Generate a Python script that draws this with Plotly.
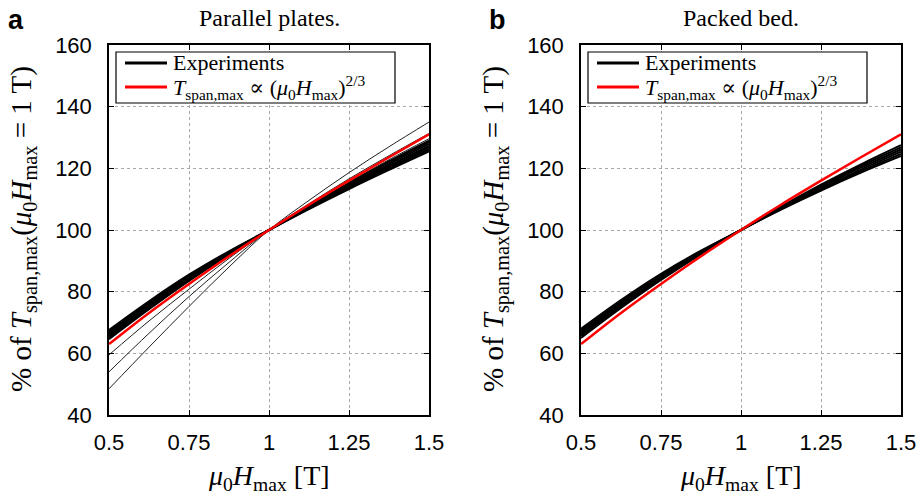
import plotly.graph_objects as go

# ---------------- data ----------------
field_T = [0.5, 0.625, 0.75, 0.875, 1.0, 1.125, 1.25, 1.375, 1.5]

# model: T_span,max proportional to (mu0 Hmax)^(2/3), % of value at 1 T
model_pct = [63.0, 73.1, 82.5, 91.5, 100.0, 108.2, 116.0, 123.6, 131.0]

# Parallel plates: main bundle of experiments
plates_bundle = [
    [67.6, 76.9, 85.5, 93.1, 100.0, 106.8, 113.3, 119.5, 125.5],
    [67.1, 76.5, 85.2, 92.9, 100.0, 107.0, 113.6, 120.0, 126.1],
    [66.6, 76.1, 84.9, 92.7, 100.0, 107.1, 113.9, 120.5, 126.7],
    [66.1, 75.6, 84.5, 92.5, 100.0, 107.3, 114.2, 120.9, 127.3],
    [65.6, 75.2, 84.2, 92.3, 100.0, 107.5, 114.6, 121.4, 127.9],
    [65.1, 74.8, 83.9, 92.1, 100.0, 107.7, 114.9, 121.9, 128.5],
    [64.6, 74.3, 83.5, 91.9, 100.0, 107.8, 115.2, 122.3, 129.0],
]
# Parallel plates: outlying experiments
plates_outliers = [
    [59.5, 70.5, 80.8, 90.8, 100.0, 108.0, 115.5, 122.8, 129.6],
    [54.0, 66.5, 78.4, 89.5, 100.0, 108.5, 116.6, 124.1, 131.3],
    [48.5, 62.0, 75.2, 88.0, 100.0, 109.6, 118.6, 127.0, 135.0],
]
# Packed bed: bundle of experiments
bed_bundle = [
    [68.0, 77.3, 85.8, 93.3, 100.0, 106.6, 112.8, 118.6, 124.0],
    [67.4, 76.8, 85.4, 93.1, 100.0, 106.8, 113.1, 119.1, 124.7],
    [66.8, 76.3, 85.0, 92.9, 100.0, 107.0, 113.5, 119.6, 125.4],
    [66.2, 75.7, 84.6, 92.6, 100.0, 107.2, 113.9, 120.2, 126.1],
    [65.6, 75.2, 84.2, 92.4, 100.0, 107.4, 114.3, 120.8, 126.8],
    [65.0, 74.7, 83.8, 92.2, 100.0, 107.6, 114.7, 121.3, 127.5],
]

x_ticks = [0.5, 0.75, 1.0, 1.25, 1.5]
x_ticklabels = ["0.5", "0.75", "1", "1.25", "1.5"]
y_ticks = [40, 60, 80, 100, 120, 140, 160]

panel_titles = ["Parallel plates.", "Packed bed."]
panel_letters = ["a", "b"]
legend_exp = "Experiments"
legend_model = ("<i>T</i><sub>span,max</sub> ∝ (<i>μ</i><sub>0</sub>"
                "<i>H</i><sub>max</sub>)<sup>2/3</sup>")
y_title = ("% of <i>T</i><sub>span,max</sub>(<i>μ</i><sub>0</sub>"
           "<i>H</i><sub>max</sub> = 1 T)")
x_title = "<i>μ</i><sub>0</sub><i>H</i><sub>max</sub> [T]"

# ---------------- figure ----------------
W, H = 922, 496
serif = "Liberation Serif, DejaVu Serif, serif"
sans = "Liberation Sans, Arial, sans-serif"

fig = go.Figure()

def add_panel(bundle, outliers, xa, ya):
    for ys in outliers:
        fig.add_trace(go.Scatter(x=field_T, y=ys, mode="lines", line=dict(color="#222", width=1, shape="spline"),
                                 showlegend=False, xaxis=xa, yaxis=ya, hoverinfo="skip"))
    for ys in bundle:
        fig.add_trace(go.Scatter(x=field_T, y=ys, mode="lines", line=dict(color="black", width=2, shape="spline"),
                                 showlegend=False, xaxis=xa, yaxis=ya, hoverinfo="skip"))
    fig.add_trace(go.Scatter(x=field_T, y=model_pct, mode="lines", line=dict(color="red", width=2.5, shape="spline"),
                             showlegend=False, xaxis=xa, yaxis=ya, hoverinfo="skip"))

add_panel(plates_bundle, plates_outliers, "x", "y")
add_panel(bed_bundle, [], "x2", "y2")

x_dom = [(109 / W, 429 / W), (581 / W, 901 / W)]
y_dom = (1 - 415 / H, 1 - 45 / H)

axis_common = dict(
    showline=True, linecolor="black", linewidth=1.5, mirror="ticks",
    ticks="inside", ticklen=5, tickcolor="black", automargin=False,
    showgrid=True, gridcolor="#a8a8a8", griddash="dot", gridwidth=1,
    zeroline=False, tickfont=dict(family=sans, size=22, color="black"),
)

fig.update_layout(
    width=W, height=H, margin=dict(l=0, r=0, t=0, b=0, autoexpand=False),
    paper_bgcolor="white", plot_bgcolor="white", showlegend=False,
    xaxis=dict(domain=x_dom[0], range=[0.5, 1.5], tickvals=x_ticks, ticktext=x_ticklabels,
               anchor="y", ticklabelstandoff=7, **axis_common),
    yaxis=dict(domain=y_dom, range=[40, 160], tickvals=y_ticks, anchor="x",
               ticklabelstandoff=11, **axis_common),
    xaxis2=dict(domain=x_dom[1], range=[0.5, 1.5], tickvals=x_ticks, ticktext=x_ticklabels,
                anchor="y2", ticklabelstandoff=7, **axis_common),
    yaxis2=dict(domain=y_dom, range=[40, 160], tickvals=y_ticks, anchor="x2",
                ticklabelstandoff=11, **axis_common),
)

def px(x):
    return x / W

def py(y):
    return 1 - y / H

annotations = []
shapes = []
centers = [269, 741]
legend_left = [116, 588]
for i in range(2):
    cx = px(centers[i])
    annotations.append(dict(text=panel_titles[i], x=cx, y=py(18), xref="paper", yref="paper",
                            xanchor="center", yanchor="middle",
                            showarrow=False, font=dict(family=serif, size=24, color="black")))
    annotations.append(dict(text=x_title, x=cx, y=py(477), xref="paper", yref="paper",
                            xanchor="center", yanchor="middle",
                            showarrow=False, font=dict(family=serif, size=28, color="black")))
    lx = [23, 495][i]
    annotations.append(dict(text=y_title, x=px(lx), y=py(229), xref="paper", yref="paper",
                            xanchor="center", yanchor="middle",
                            textangle=-90, showarrow=False,
                            font=dict(family=serif, size=29, color="black")))
    ax = [16, 498][i]
    annotations.append(dict(text="<b>" + panel_letters[i] + "</b>", x=px(ax), y=py(20),
                            xref="paper", yref="paper", xanchor="center", yanchor="middle",
                            showarrow=False, font=dict(family=sans, size=27, color="black")))
    # legend box
    L = legend_left[i]
    shapes.append(dict(type="rect", xref="paper", yref="paper", x0=px(L), x1=px(L + 279),
                       y0=py(103), y1=py(52), line=dict(color="black", width=1.2), fillcolor="white",
                       layer="above"))
    shapes.append(dict(type="line", xref="paper", yref="paper", x0=px(L + 9), x1=px(L + 51),
                       y0=py(63), y1=py(63), line=dict(color="black", width=3), layer="above"))
    shapes.append(dict(type="line", xref="paper", yref="paper", x0=px(L + 9), x1=px(L + 51),
                       y0=py(87), y1=py(87), line=dict(color="red", width=3), layer="above"))
    annotations.append(dict(text=legend_exp, x=px(L + 55), y=py(63), xref="paper", yref="paper",
                            xanchor="left", yanchor="middle", showarrow=False,
                            font=dict(family=serif, size=22, color="black")))
    annotations.append(dict(text=legend_model, x=px(L + 55), y=py(87), xref="paper", yref="paper",
                            xanchor="left", yanchor="middle", showarrow=False,
                            font=dict(family=serif, size=22, color="black")))

fig.update_layout(annotations=annotations, shapes=shapes)

fig.write_html("out.html", config={"displayModeBar": False},
               post_script="document.body.style.margin='0';")
